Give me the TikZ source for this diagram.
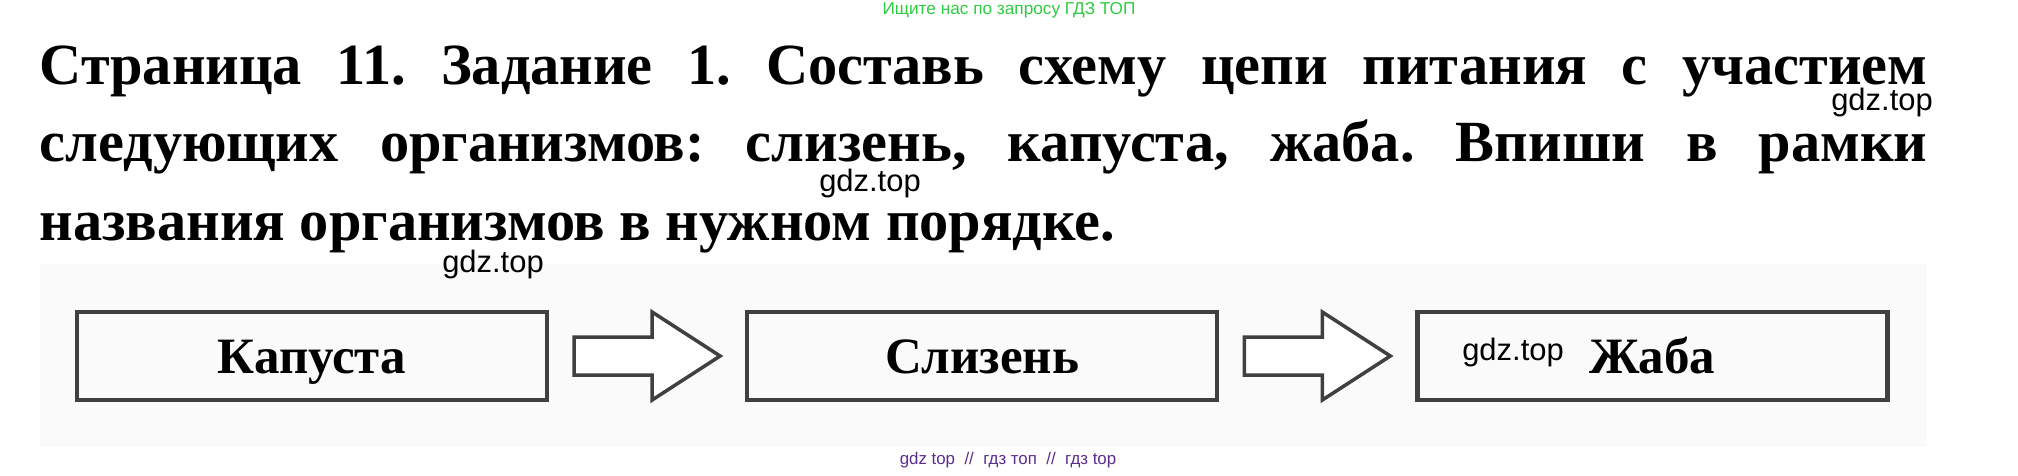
\documentclass[tikz,border=0pt]{standalone}
\usepackage{fontspec}
\setmainfont{Liberation Serif}
\newfontfamily\wmfont{Liberation Sans}
\frenchspacing
\usetikzlibrary{positioning,calc}
\definecolor{adgreen}{RGB}{46,204,64}
\definecolor{adpurple}{RGB}{91,45,142}
\tikzset{
  organism/.style={draw=black!75,line width=1.2pt,minimum width=4.7cm,minimum height=0.88cm,inner sep=0pt,
    text height=0.34cm,text depth=0pt,font=\fontsize{14.5}{16}\selectfont\bfseries},
  blockarrow/.style={draw=black!75,line width=1pt,fill=white,line join=miter},
  wm/.style={font=\wmfont\fontsize{8.8}{10}\selectfont,inner sep=0pt},
  titleline/.style={anchor=base west,inner sep=0pt,font=\fontsize{16.6}{18}\selectfont\bfseries}
}
\begin{document}
\begin{tikzpicture}
  \useasboundingbox (0,0) rectangle (20.18,-4.75);
  \fill[black!2] (0.40,-2.64) rectangle (19.27,-4.47);

  \node[font=\wmfont\fontsize{4.9}{6}\selectfont,text=adgreen,inner sep=0pt] (ad) at (10.09,-0.10) {Ищите нас по запросу ГДЗ ТОП};

  \node[titleline] (line1) at (0.39,-0.84) {\makebox[18.88cm][s]{Страница 11. Задание 1. Составь схему цепи питания с участием}};
  \node[titleline] (line2) at (0.39,-1.61) {\makebox[18.88cm][s]{следующих организмов: слизень, капуста, жаба. Впиши в рамки}};
  \node[titleline] (line3) at (0.39,-2.40) {названия организмов в нужном порядке.};

  \node[organism] (kap) at (3.12,-3.56) {Капуста};
  \node[organism,right=1.96cm of kap] (sliz) {Слизень};
  \node[organism,right=1.96cm of sliz] (zhaba) {Жаба};

  \foreach \a/\b in {kap/sliz,sliz/zhaba}
    \draw[blockarrow] ($(\a.east)+(0.25,0.19)$) -- ++(0.78,0) -- ++(0,0.25)
      -- ($(\b.west)+(-0.25,0)$) -- ($(\a.east)+(1.03,-0.44)$) -- ++(0,0.25) -- ++(-0.78,0) -- cycle;

  \node[wm] (wm1) at (18.82,-1.02) {gdz.top};
  \node[wm] (wm2) at (8.70,-1.83) {gdz.top};
  \node[wm] (wm3) at (4.93,-2.64) {gdz.top};
  \node[wm] (wm4) at (15.13,-3.52) {gdz.top};
  \node[font=\wmfont\fontsize{4.8}{6}\selectfont,text=adpurple,inner sep=0pt] (foot) at (10.08,-4.60)
    {gdz top \ // \ гдз топ \ // \ гдз top};
\end{tikzpicture}
\end{document}
